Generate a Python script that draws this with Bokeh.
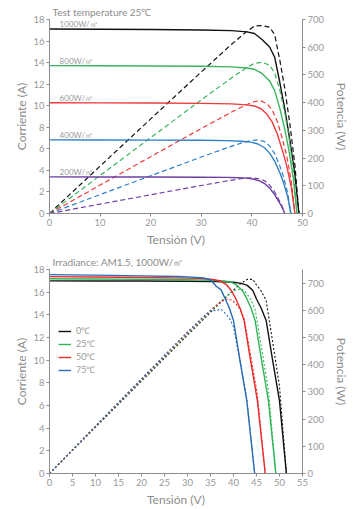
from bokeh.plotting import figure
from bokeh.models import Range1d, LinearAxis, Legend, LegendItem, FixedTicker, ColumnDataSource
from bokeh.layouts import column
from bokeh.embed import file_html
from bokeh.resources import INLINE
from bokeh.core.properties import value

FONT = "Lato"
AX = "#8c8c8c"
TXT = "#9a9a9a"

# ---------------- Top chart: irradiance (25 C) ----------------
top_title = "Test temperature 25\u2103"
irr_labels = ["1000W/\u33a1", "800W/\u33a1", "600W/\u33a1", "400W/\u33a1", "200W/\u33a1"]
irr_colors = ["#111111", "#3db360", "#f03a3a", "#2f7fc6", "#6c3fa3"]

v_1000 = [0, 10, 20, 30, 36, 39, 40.5, 42, 43.5, 44.5, 45.5, 46.5, 47.5, 48.5, 49.3]
i_1000 = [17.12, 17.1, 17.07, 17.03, 16.97, 16.85, 16.7, 16.15, 15.45, 14.5, 12.2, 9.7, 6.8, 3.6, 0]
v_800 = [0, 10, 20, 30, 36, 39, 40.5, 42, 43.5, 44.5, 45.5, 46.5, 47.3, 48.2, 48.9]
i_800 = [13.72, 13.71, 13.69, 13.66, 13.6, 13.5, 13.38, 13.0, 12.3, 11.4, 9.8, 7.8, 5.9, 3.2, 0]
v_600 = [0, 10, 20, 30, 36, 39, 40.5, 41.8, 43, 44, 45, 46, 46.9, 47.8, 48.5]
i_600 = [10.27, 10.26, 10.25, 10.22, 10.17, 10.08, 9.98, 9.72, 9.2, 8.5, 7.4, 5.9, 4.4, 2.4, 0]
v_400 = [0, 10, 20, 30, 35, 38, 39.8, 41.2, 42.5, 43.5, 44.5, 45.5, 46.3, 47.1, 47.7]
i_400 = [6.83, 6.82, 6.81, 6.79, 6.76, 6.7, 6.62, 6.45, 6.1, 5.6, 4.85, 3.8, 2.8, 1.5, 0]
v_200 = [0, 10, 20, 30, 35, 37.5, 39, 40.2, 41.5, 42.5, 43.5, 44.5, 45.2, 45.9, 46.5]
i_200 = [3.4, 3.39, 3.38, 3.37, 3.35, 3.32, 3.28, 3.2, 3.02, 2.78, 2.35, 1.75, 1.2, 0.65, 0]

top_v = [v_1000, v_800, v_600, v_400, v_200]
top_i = [i_1000, i_800, i_600, i_400, i_200]
top_xticks = [0, 10, 20, 30, 40, 50]
top_yticks = [0, 2, 4, 6, 8, 10, 12, 14, 16, 18]
top_pticks = [0, 100, 200, 300, 400, 500, 600, 700]

# ---------------- Bottom chart: temperature (1000 W/m2) ----------------
bot_title = "Irradiance: AM1.5, 1000W/\u33a1"
temp_labels = ["0\u2103", "25\u2103", "50\u2103", "75\u2103"]
temp_colors = ["#111111", "#2fb457", "#ec2a2a", "#2a6bb5"]

v_t0 = [0, 10, 20, 30, 36, 40, 41.7, 43, 44.2, 45, 46, 47.1, 48.5, 50, 51.5]
i_t0 = [17.0, 16.99, 16.98, 16.96, 16.93, 16.87, 16.78, 16.6, 16.15, 15.4, 14.6, 13.5, 10.0, 6.4, 0]
v_t25 = [0, 10, 20, 30, 34, 38, 39.5, 40.8, 42, 42.8, 43.8, 44.7, 46.1, 47.6, 49.2]
i_t25 = [17.18, 17.16, 17.13, 17.09, 17.06, 16.98, 16.88, 16.6, 16.1, 15.5, 14.6, 13.5, 10.0, 6.4, 0]
v_t50 = [0, 10, 20, 30, 33, 35.5, 37.2, 38.5, 39.6, 40.4, 41.4, 42.3, 43.7, 45.2, 46.9]
i_t50 = [17.37, 17.34, 17.3, 17.24, 17.2, 17.12, 16.98, 16.65, 16.1, 15.5, 14.6, 13.5, 10.0, 6.4, 0]
v_t75 = [0, 10, 20, 28, 31, 33.5, 35, 36.2, 37.3, 38.1, 39.1, 40.0, 41.4, 42.9, 44.6]
i_t75 = [17.55, 17.5, 17.44, 17.38, 17.33, 17.25, 17.1, 16.55, 16.2, 15.5, 14.6, 13.5, 10.0, 6.4, 0]

bot_v = [v_t0, v_t25, v_t50, v_t75]
bot_i = [i_t0, i_t25, i_t50, i_t75]
bot_xticks = [0, 5, 10, 15, 20, 25, 30, 35, 40, 45, 50, 55]
bot_yticks = [0, 2, 4, 6, 8, 10, 12, 14, 16, 18]
bot_pticks = [0, 100, 200, 300, 400, 500, 600, 700]


def style_axis(ax, label_standoff):
    ax.axis_line_color = AX
    ax.axis_line_width = 1
    ax.major_tick_line_color = AX
    ax.minor_tick_line_color = None
    ax.major_tick_out = 3
    ax.major_tick_in = 0
    ax.major_label_text_color = TXT
    ax.major_label_text_font = FONT
    ax.major_label_text_font_size = "9.5px"
    ax.major_label_standoff = 2
    ax.axis_label_text_color = AX
    ax.axis_label_text_font = FONT
    ax.axis_label_text_font_style = "normal"
    ax.axis_label_text_font_size = "12px"
    ax.axis_label_standoff = label_standoff


def make_fig(height, top, bottom, xmax, pmax, xticks, yticks, pticks, title):
    p = figure(width=352, height=height, output_backend="svg", toolbar_location=None,
               x_range=Range1d(0, xmax), y_range=Range1d(0, 18),
               min_border_left=49, min_border_right=49,
               min_border_top=top, min_border_bottom=bottom)
    p.title.text = title
    p.title.text_font = FONT
    p.title.text_font_size = "10px"
    p.title.text_font_style = "normal"
    p.title.text_color = AX
    p.title.align = "left"
    p.title.offset = 3
    p.title.standoff = 3
    p.extra_y_ranges = {"pw": Range1d(0, pmax)}
    p.outline_line_color = None
    p.grid.visible = False
    p.background_fill_color = "white"
    p.border_fill_color = "white"
    p.xaxis.ticker = FixedTicker(ticks=xticks)
    p.yaxis.ticker = FixedTicker(ticks=yticks)
    p.xaxis.axis_label = "Tensi\u00f3n (V)"
    p.yaxis.axis_label = "Corriente (A)"
    style_axis(p.xaxis[0], 3)
    style_axis(p.yaxis[0], 1)
    rax = LinearAxis(y_range_name="pw", ticker=FixedTicker(ticks=pticks), axis_label="Potencia (W)")
    style_axis(rax, 7)
    p.add_layout(rax, "right")
    return p


# ---- top figure ----
p1 = make_fig(250, 19, 37, 50, 700, top_xticks, top_yticks, top_pticks, top_title)
for vs, cs, col in zip(top_v, top_i, irr_colors):
    pw = [v * c for v, c in zip(vs, cs)]
    p1.line(vs, cs, line_color=col, line_width=1.4)
    p1.line(vs, pw, y_range_name="pw", line_color=col, line_width=1.2, line_dash="5 3")

lab_src = ColumnDataSource(dict(x=[2.0] * len(irr_labels), y=[c[0] for c in top_i], t=irr_labels))
p1.text(x="x", y="y", text="t", source=lab_src, text_font=value(FONT), text_font_size="8px",
        text_color=TXT, text_baseline="bottom", text_align="left")

# ---- bottom figure ----
p2 = make_fig(259, 19, 36, 55, 750, bot_xticks, bot_yticks, bot_pticks, bot_title)
items = []
for vs, cs, col, lab in zip(bot_v, bot_i, temp_colors, temp_labels):
    pw = [v * c for v, c in zip(vs, cs)]
    r = p2.line(vs, cs, line_color=col, line_width=1.4)
    p2.line(vs, pw, y_range_name="pw", line_color=col, line_width=1.1, line_dash="2 2")
    items.append(LegendItem(label=lab, renderers=[r]))

legend = Legend(items=items, location=(9, 97), orientation="vertical",
                glyph_width=13, glyph_height=12, label_height=12, spacing=0,
                label_standoff=5, padding=0, margin=0,
                border_line_color=None, background_fill_alpha=0,
                label_text_font=FONT, label_text_font_size="9px", label_text_color=TXT)
p2.add_layout(legend)

layout = column(p1, p2, spacing=0)
open("out.html", "w").write(file_html(layout, INLINE))
